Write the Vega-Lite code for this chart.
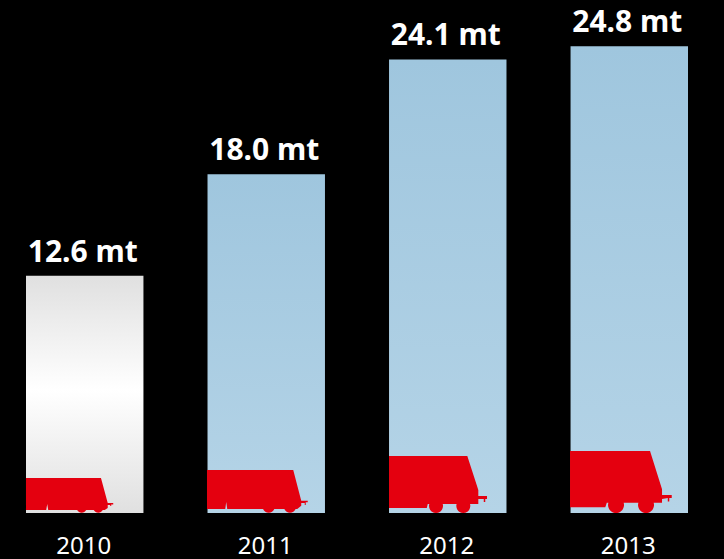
{
  "$schema": "https://vega.github.io/schema/vega-lite/v6.json",
  "width": 724,
  "height": 513,
  "padding": {"left": 0, "right": 0, "top": 0, "bottom": 46},
  "autosize": {"type": "none"},
  "background": "#000000",
  "view": {"stroke": null},
  "data": {
    "values": [
      {"year": "2010", "tonnes": 12.6},
      {"year": "2011", "tonnes": 18.0},
      {"year": "2012", "tonnes": 24.1},
      {"year": "2013", "tonnes": 24.8}
    ]
  },
  "transform": [
    {"calculate": "format(datum.tonnes, '.1f') + ' mt'", "as": "label"}
  ],
  "encoding": {
    "x": {
      "field": "year",
      "type": "nominal",
      "scale": {"range": [26, 688], "paddingInner": 0.353, "paddingOuter": 0},
      "axis": {
        "title": null,
        "domain": false,
        "ticks": false,
        "labelAngle": 0,
        "labelFont": "Noto Sans",
        "labelFontSize": 24,
        "labelColor": "#ffffff",
        "labelPadding": 40,
        "labelBaseline": "alphabetic",
        "labelOffset": -1,
        "grid": false
      }
    },
    "y": {
      "field": "tonnes",
      "type": "quantitative",
      "scale": {"domain": [0, 27.258], "nice": false, "zero": true},
      "axis": null
    }
  },
  "layer": [
    {
      "transform": [{"filter": "datum.year === '2010'"}],
      "mark": {
        "type": "bar",
        "color": {
          "gradient": "linear",
          "x1": 0, "y1": 0, "x2": 0, "y2": 1,
          "stops": [
            {"offset": 0, "color": "#e0e0e0"},
            {"offset": 0.48, "color": "#ffffff"},
            {"offset": 1, "color": "#e0e0e0"}
          ]
        }
      }
    },
    {
      "transform": [{"filter": "datum.year !== '2010'"}],
      "mark": {
        "type": "bar",
        "color": {
          "gradient": "linear",
          "x1": 0, "y1": 0, "x2": 0, "y2": 1,
          "stops": [
            {"offset": 0, "color": "#9fc6de"},
            {"offset": 1, "color": "#b5d4e7"}
          ]
        }
      }
    },
    {
      "description": "Red wagon silhouette at the foot of each bar, one outline per year",
      "mark": {"type": "point", "filled": true, "opacity": 1, "size": 4, "color": "#e4000f", "strokeWidth": 0},
      "encoding": {
        "y": {"datum": 0},
        "shape": {
          "field": "year",
          "type": "nominal",
          "legend": null,
          "scale": {
            "domain": ["2010", "2011", "2012", "2013"],
            "range": [
              "M-58.75,-35 L16.25,-35 L23,-10 L28.5,-10 L28.5,-8.5 L26.5,-8.5 L26.5,-7 L25.5,-7 L25.5,-8 L23,-8 L23,-5 L20,-3 L18.1,-3 A5.2,5.2 0 0 1 9,-3 L1.5,-3 A5.2,5.2 0 0 1 -7.6,-3 L-36.5,-3 L-37.5,-9 L-38.5,-3 L-58.75,-3 Z",
              "M-59.25,-43 L27,-43 L35,-12.3 L41.5,-12.3 L41.5,-10.7 L39.5,-10.7 L39.5,-8 L38.5,-8 L38.5,-10 L35,-10 L35,-7.3 L31,-4 L29.4,-4 A6.2,6.2 0 0 1 18.1,-4 L8.1,-4 A6.2,6.2 0 0 1 -3.2,-4 L-39,-4 L-40,-11 L-41,-4 L-59.25,-4 Z",
              "M-58.75,-57 L19.55,-57 L30.55,-23 L30.55,-17 L39.25,-17 L39.25,-14 L37.5,-14 L37.5,-11 L36,-11 L36,-14 L30.55,-14 L30.55,-9 L22.25,-9 A7,7 0 1 1 8.85,-9 L-5.05,-9 A7,7 0 1 1 -18.45,-9 L-20,-9 L-21,-5 L-58.75,-5 Z",
              "M-59.25,-62 L20.75,-62 L32.75,-23.7 L32.75,-18 L42.45,-18 L42.45,-15 L40,-15 L40,-11.5 L38.5,-11.5 L38.5,-15 L32.75,-14 L32.75,-10.3 L24.4,-10.3 A8,8 0 1 1 9.1,-10.3 L-5.6,-10.3 A8,8 0 1 1 -20.9,-10.3 L-22.5,-10.3 L-24,-5.7 L-59.25,-5.7 Z"
            ]
          }
        }
      }
    },
    {
      "mark": {
        "type": "text",
        "font": "Noto Sans",
        "fontWeight": "bold",
        "fontSize": 30,
        "color": "#ffffff",
        "baseline": "alphabetic",
        "align": "center",
        "dx": -2,
        "dy": -14
      },
      "encoding": {
        "text": {"field": "label", "type": "nominal"}
      }
    }
  ],
  "config": {"style": {"cell": {"stroke": null}}}
}
